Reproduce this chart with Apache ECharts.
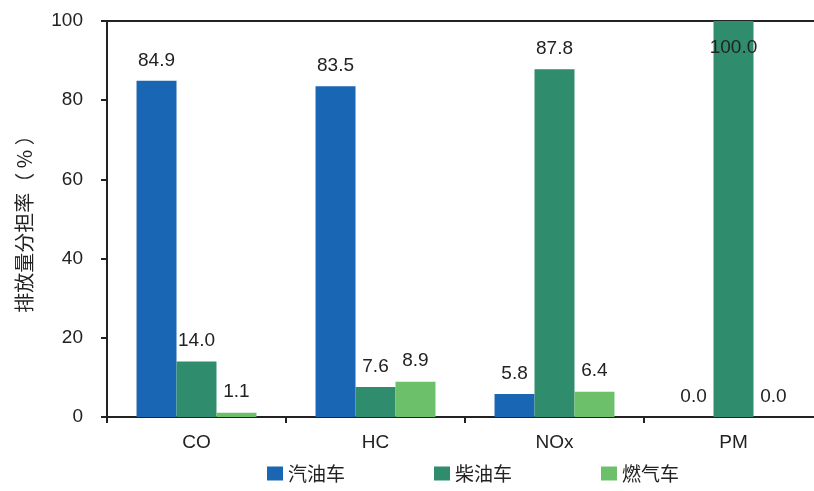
<!DOCTYPE html>
<html>
<head>
<meta charset="utf-8">
<script src="https://cdn.jsdelivr.net/npm/echarts@6/dist/echarts.min.js"></script>
<style>
  html, body { margin: 0; padding: 0; background: #fff; }
  #chart { width: 814px; height: 491px; }
</style>
</head>
<body>
<div id="chart"></div>
<script>
// Pollutants on the category axis
const pollutants = ['CO', 'HC', 'NOx', 'PM'];
// Share of emissions by vehicle fuel type (%)
const gasoline = [84.9, 83.5, 5.8, 0.0];
const diesel = [14.0, 7.6, 87.8, 100.0];
const gas = [1.1, 8.9, 6.4, 0.0];
const seriesNames = ['汽油车', '柴油车', '燃气车'];
const yTicks = [0, 20, 40, 60, 80, 100];

const fontFamily = '"Liberation Sans", Arial, "Noto Sans CJK SC", sans-serif';
const cjkFont = '"Noto Sans CJK SC", sans-serif';
const textColor = '#222';

const chart = echarts.init(document.getElementById('chart'));

// A value that fills the axis to the top gets its label inside the bar
function withLabels(values) {
  return values.map(v => v >= yTicks[yTicks.length - 1]
    ? { value: v, label: { position: 'insideTop', distance: 17 } }
    : v);
}

const colors = ['#1967b4', '#2f8c6c', '#6cc06a'];
const seriesData = [gasoline, diesel, gas];

chart.setOption({
  animation: false,
  textStyle: { fontFamily: fontFamily },
  grid: {
    left: 107, width: 716, top: 21, bottom: 74,
    outerBoundsMode: 'none',
    containLabel: false,
    show: true, borderColor: '#222', borderWidth: 2, backgroundColor: 'transparent'
  },
  legend: {
    left: 262, bottom: 3,
    itemWidth: 16, itemHeight: 14, itemGap: 89,
    icon: 'rect',
    textStyle: { fontSize: 19, color: textColor, fontFamily: cjkFont },
    data: seriesNames
  },
  xAxis: {
    type: 'category',
    data: pollutants,
    axisLine: { lineStyle: { color: '#222', width: 2 } },
    axisTick: { show: true, length: 6, lineStyle: { color: '#222', width: 2 } },
    axisLabel: { fontSize: 19, color: textColor, margin: 16 },
    splitLine: { show: false }
  },
  yAxis: {
    type: 'value',
    min: yTicks[0], max: yTicks[yTicks.length - 1], interval: yTicks[1] - yTicks[0],
    name: '排放量分担率（ % ）',
    nameLocation: 'middle',
    nameGap: 73,
    nameTextStyle: { fontSize: 20, color: textColor, fontFamily: cjkFont },
    axisLine: { show: true, lineStyle: { color: '#222', width: 2 } },
    axisTick: { show: true, length: 6, lineStyle: { color: '#222', width: 2 } },
    axisLabel: { fontSize: 19, color: textColor, margin: 24 },
    splitLine: { show: false }
  },
  series: seriesData.map((d, i) => ({
    name: seriesNames[i],
    type: 'bar',
    data: withLabels(d),
    barGap: '0%',
    barCategoryGap: '33%',
    itemStyle: { color: colors[i] },
    label: {
      show: true, position: 'top', distance: 11,
      fontSize: 19, color: textColor,
      formatter: p => Number(p.value).toFixed(1)
    }
  }))
});
</script>
</body>
</html>
